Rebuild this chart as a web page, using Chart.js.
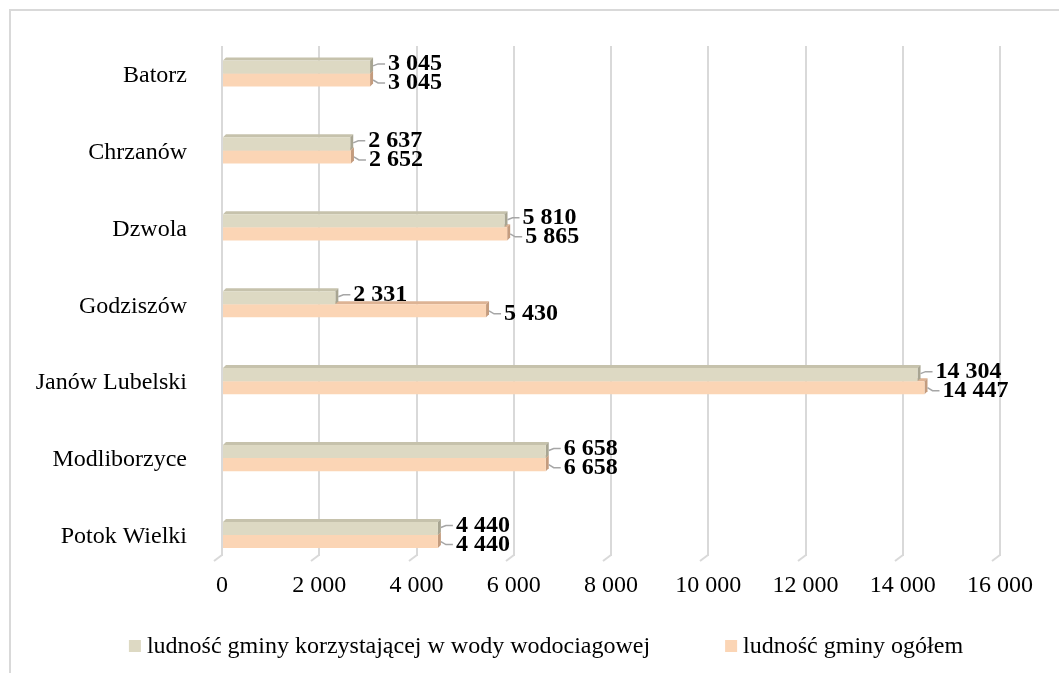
<!DOCTYPE html>
<html>
<head>
<meta charset="utf-8">
<script src="https://cdn.jsdelivr.net/npm/chart.js@4"></script>
<style>
  html, body { margin: 0; padding: 0; background: #ffffff; }
  #wrap { width: 1059px; height: 673px; position: relative; }
</style>
</head>
<body>
<div id="wrap"><canvas id="c"></canvas></div>
<script>
// ---- data ----
const categories = ['Batorz', 'Chrzanów', 'Dzwola', 'Godziszów', 'Janów Lubelski', 'Modliborzyce', 'Potok Wielki'];
const seriesNames = ['ludność gminy korzystającej w wody wodociagowej', 'ludność gminy ogółem'];
const servedPopulation = [3045, 2637, 5810, 2331, 14304, 6658, 4440];
const totalPopulation = [3045, 2652, 5865, 5430, 14447, 6658, 4440];
const xMin = 0, xMax = 16000, xStep = 2000;

// ---- styles ----
const FRONT = ['#DDD9C3', '#FBD5B5'];
const TOPF = ['#C6C2AC', '#DDB394'];
const SIDE = ['#A8A592', '#C49C7E'];
const DEPTH = 3;
const GRID_TOP = 46, GRID_BOTTOM = 556;
const SERIF = '"Liberation Serif", "Times New Roman", serif';

const fmt = v => String(v).replace(/\B(?=(\d{3})+(?!\d))/g, ' ');

const framePlugin = {
  id: 'frame',
  beforeDraw(chart) {
    const ctx = chart.ctx;
    ctx.save();
    ctx.strokeStyle = '#D9D9D9';
    ctx.lineWidth = 2;
    ctx.beginPath();
    ctx.moveTo(10, chart.height);
    ctx.lineTo(10, 10);
    ctx.lineTo(chart.width, 10);
    ctx.stroke();
    ctx.restore();
    // clip grid lines to the back wall
    ctx.save();
    ctx.beginPath();
    ctx.rect(0, GRID_TOP, chart.width, GRID_BOTTOM - GRID_TOP);
    ctx.clip();
  },
  beforeDatasetsDraw(chart) {
    const ctx = chart.ctx;
    ctx.restore();
    const xs = chart.scales.x;
    ctx.save();
    ctx.strokeStyle = '#D9D9D9';
    ctx.lineWidth = 2;
    xs.ticks.forEach(t => {
      const px = Math.round(xs.getPixelForValue(t.value));
      ctx.beginPath();
      ctx.moveTo(px, GRID_BOTTOM - 1);
      ctx.lineTo(px - 8, GRID_BOTTOM + 5);
      ctx.stroke();
    });
    // 3D faces (behind front faces)
    [1, 0].forEach(di => {
      const meta = chart.getDatasetMeta(di);
      meta.data.forEach(el => {
        const p = el.getProps(['x', 'y', 'base', 'height'], true);
        const top = p.y - p.height / 2, bottom = p.y + p.height / 2;
        ctx.fillStyle = TOPF[di];
        ctx.beginPath();
        ctx.moveTo(p.base, top);
        ctx.lineTo(p.x, top);
        ctx.lineTo(p.x + DEPTH, top - DEPTH);
        ctx.lineTo(p.base + DEPTH, top - DEPTH);
        ctx.closePath();
        ctx.fill();
        ctx.fillStyle = SIDE[di];
        ctx.beginPath();
        ctx.moveTo(p.x, top);
        ctx.lineTo(p.x + DEPTH, top - DEPTH);
        ctx.lineTo(p.x + DEPTH, bottom - DEPTH);
        ctx.lineTo(p.x, bottom);
        ctx.closePath();
        ctx.fill();
      });
    });
    ctx.restore();
  },
  afterDatasetsDraw(chart) {
    const ctx = chart.ctx;
    ctx.save();
    ctx.font = 'bold 24px ' + SERIF;
    ctx.textBaseline = 'middle';
    ctx.textAlign = 'left';
    [0, 1].forEach(di => {
      const meta = chart.getDatasetMeta(di);
      const data = chart.data.datasets[di].data;
      meta.data.forEach((el, i) => {
        const p = el.getProps(['x', 'y'], true);
        const ly = p.y + (di === 0 ? -3 : 3);
        const lx = p.x + 18;
        ctx.strokeStyle = '#A6A6A6';
        ctx.lineWidth = 1.5;
        ctx.beginPath();
        ctx.moveTo(p.x + DEPTH, p.y - (di === 0 ? 1 : 0));
        ctx.lineTo(p.x + 8, ly);
        ctx.lineTo(lx - 3, ly);
        ctx.stroke();
        ctx.fillStyle = '#000000';
        ctx.fillText(fmt(data[i]), lx, ly);
      });
    });
    ctx.restore();
  },
  afterDraw(chart) {
    const ctx = chart.ctx;
    ctx.save();
    ctx.font = '24px ' + SERIF;
    ctx.textBaseline = 'middle';
    ctx.textAlign = 'left';
    const BOX = 12, GAP = 6, SP = 75, CY = 646, CX = 546;
    const ds = chart.data.datasets;
    const widths = ds.map(d => BOX + GAP + ctx.measureText(d.label).width);
    const total = widths.reduce((a, b) => a + b, 0) + SP * (ds.length - 1);
    let x = CX - total / 2;
    ds.forEach((d, k) => {
      ctx.fillStyle = d.backgroundColor;
      ctx.fillRect(x, CY - 6, BOX, BOX);
      ctx.fillStyle = '#000000';
      ctx.fillText(d.label, x + BOX + GAP, CY + 1);
      x += widths[k] + SP;
    });
    ctx.restore();
  }
};

new Chart(document.getElementById('c'), {
  type: 'bar',
  data: {
    labels: categories,
    datasets: [
      { label: seriesNames[0], data: servedPopulation, backgroundColor: FRONT[0], borderWidth: 0,
        categoryPercentage: 0.34, barPercentage: 1.0 },
      { label: seriesNames[1], data: totalPopulation, backgroundColor: FRONT[1], borderWidth: 0,
        categoryPercentage: 0.34, barPercentage: 1.0 }
    ]
  },
  options: {
    indexAxis: 'y',
    responsive: true,
    maintainAspectRatio: false,
    animation: false,
    layout: { padding: { top: 35, left: 0, right: 59, bottom: 59.5 } },
    plugins: {
      legend: { display: false },
      tooltip: { enabled: false }
    },
    scales: {
      x: {
        min: xMin, max: xMax,
        ticks: {
          stepSize: xStep,
          padding: 0,
          z: 1,
          color: '#000000',
          font: { family: SERIF, size: 24, lineHeight: 1 },
          callback: v => fmt(v),
          maxRotation: 0
        },
        grid: { color: '#D9D9D9', lineWidth: 2, drawTicks: false },
        border: { display: false },
        afterFit: s => { s.height = 40; s.paddingLeft = 0; s.paddingRight = 0; }
      },
      y: {
        ticks: {
          padding: 35,
          z: 1,
          labelOffset: 2,
          color: '#000000',
          font: { family: SERIF, size: 24 }
        },
        grid: { display: false, drawTicks: false },
        border: { display: false },
        afterFit: s => { s.width = 222; s.paddingTop = 0; s.paddingBottom = 0; }
      }
    }
  },
  plugins: [framePlugin]
});
</script>
</body>
</html>
